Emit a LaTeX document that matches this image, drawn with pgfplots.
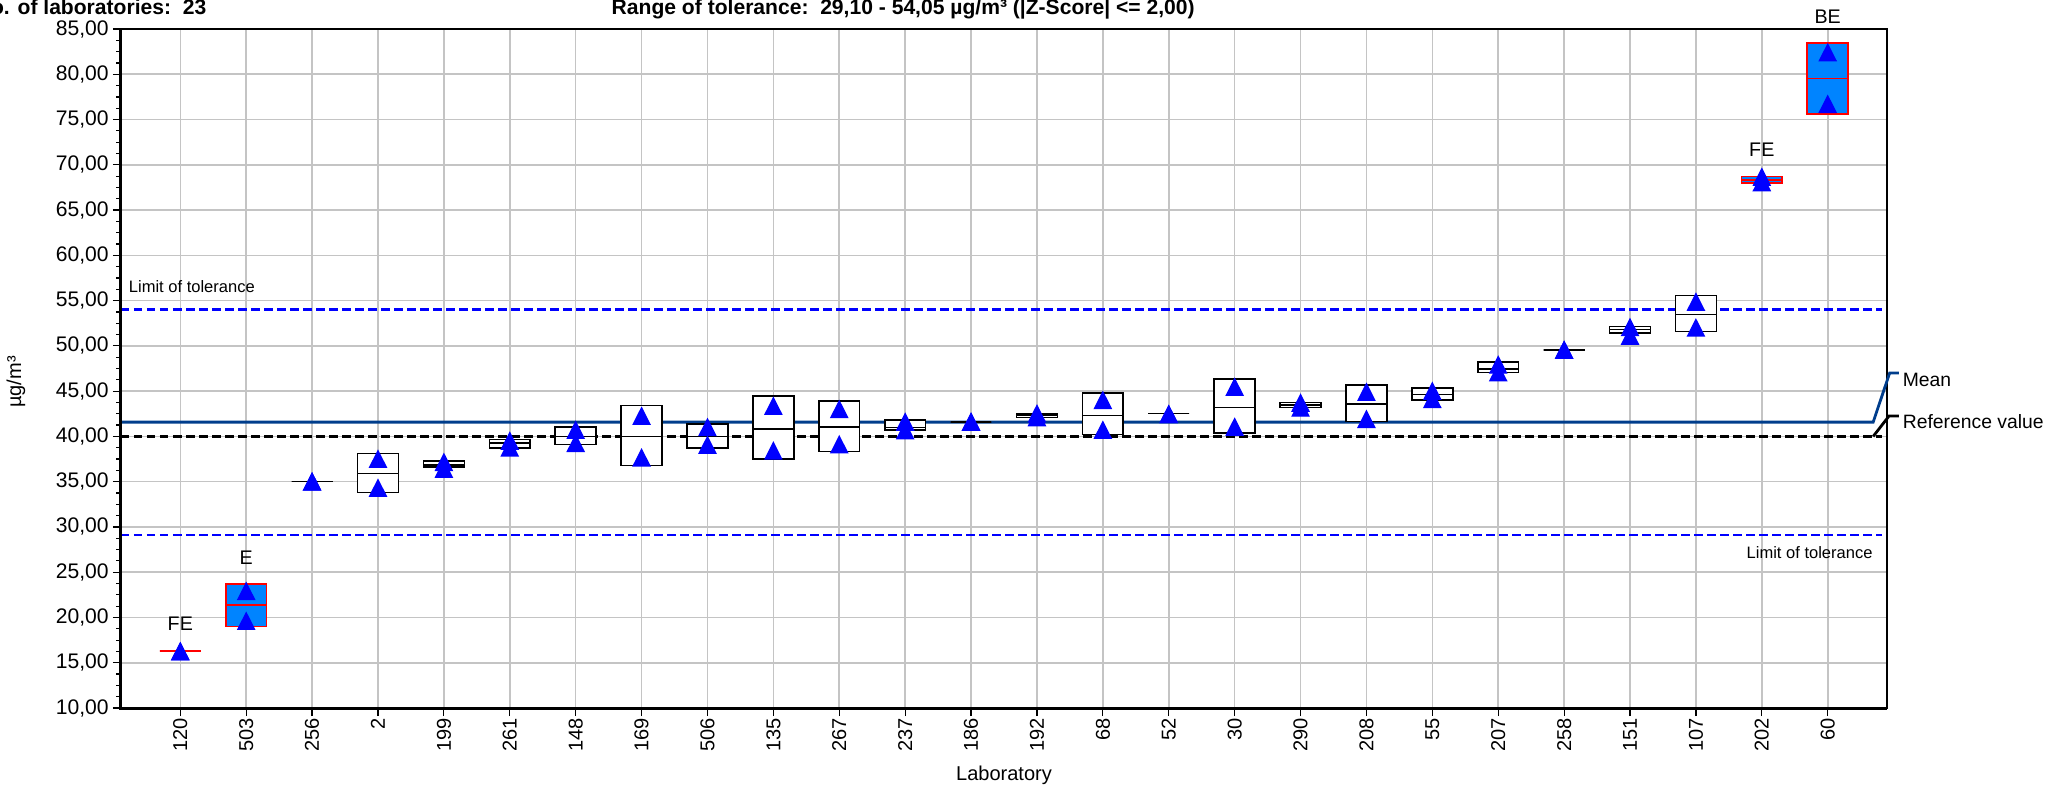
\documentclass[border=0pt]{standalone}
\usepackage{fontspec}
\setmainfont{Liberation Sans}
\usepackage{pgfplots}
\usepackage{pgfplotstable}
\usepgfplotslibrary{statistics}
\pgfplotsset{compat=1.18}

\definecolor{boxblue}{RGB}{0,132,255}
\definecolor{meanblue}{RGB}{0,61,140}
\definecolor{gridgray}{RGB}{196,196,196}

\pgfplotstableread{
pos lab lo med hi ta tb
0 120 16.3 16.3 16.3 16.25 16.25
1 503 19.0 21.4 23.7 22.9 19.6
2 256 35.0 35.0 35.0 35.0 35.0
3 2 33.8 35.9 38.1 37.5 34.3
4 199 36.6 36.85 37.3 37.15 36.4
5 261 38.75 39.25 39.65 39.5 38.75
6 148 39.1 40.0 41.05 40.7 39.25
7 169 36.8 40.0 43.4 42.25 37.65
8 506 38.75 40.0 41.4 41.0 39.05
9 135 37.5 40.85 44.45 43.35 38.4
10 267 38.35 41.05 43.9 43.0 39.1
11 237 40.7 41.0 41.8 41.6 40.65
12 186 41.6 41.6 41.6 41.6 41.6
13 192 42.1 42.3 42.5 42.5 42.1
14 68 40.2 42.3 44.8 44.0 40.7
15 52 42.55 42.55 42.55 42.45 42.45
16 30 40.35 43.2 46.35 45.45 41.05
17 290 43.2 43.45 43.75 43.7 43.15
18 208 41.65 43.6 45.7 44.9 41.9
19 55 44.05 44.65 45.35 45.0 44.1
20 207 47.05 47.45 48.2 47.9 47.05
21 258 49.55 49.55 49.55 49.55 49.55
22 151 51.45 51.8 52.15 52.05 51.1
23 107 51.6 53.45 55.55 54.85 52.0
24 202 68.0 68.35 68.7 68.65 68.05
25 60 75.6 79.55 83.45 82.4 76.7
}\boxes

% draw the box of one table row: #1 row, #2 style
\newcommand{\boxrow}[2]{%
  \pgfplotstablegetelem{#1}{lo}\of\boxes \edef\vlo{\pgfplotsretval}%
  \pgfplotstablegetelem{#1}{med}\of\boxes \edef\vmed{\pgfplotsretval}%
  \pgfplotstablegetelem{#1}{hi}\of\boxes \edef\vhi{\pgfplotsretval}%
  \edef\doplot{\noexpand\addplot[#2, boxplot/draw direction=y, boxplot prepared={draw position=#1, lower whisker=\vlo, lower quartile=\vlo, median=\vmed, upper quartile=\vhi, upper whisker=\vhi, box extend=0.62, whisker extend=0}] coordinates {};}%
  \doplot
}

\begin{document}
\begin{tikzpicture}
\path[use as bounding box] (-12.1mm,-8mm) rectangle (194.6mm,70.8mm);
\begin{axis}[
  scale only axis, width=176.6mm, height=67.9mm,
  at={(0,0)}, anchor=south west,
  xmin=-0.9, xmax=25.9, ymin=10, ymax=85,
  xtick={0,...,25}, xticklabels from table={\boxes}{lab},
  ytick={10,15,...,85},
  yticklabels={{10,00},{15,00},{20,00},{25,00},{30,00},{35,00},{40,00},{45,00},{50,00},{55,00},{60,00},{65,00},{70,00},{75,00},{80,00},{85,00}},
  minor y tick num=3,
  tick align=outside, tick pos=left,
  major tick length=0.8mm, minor tick length=0.45mm,
  every tick/.style={black, line width=0.12mm},
  grid=major, major grid style={gridgray, line width=0.16mm},
  axis line style={black, line width=0.13mm},
  clip=false,
  /pgf/number format/assume math mode=true,
  xticklabel style={font=\fontsize{5.7}{6.8}\selectfont, rotate=90, anchor=east},
  yticklabel style={font=\fontsize{6.0}{7.2}\selectfont},
  xticklabel shift=-1.0mm,
  yticklabel shift=-0.8mm,
  xlabel={Laboratory}, ylabel={µg/m³},
  label style={font=\fontsize{5.7}{6.8}\selectfont},
  xlabel style={at={(axis description cs:0.5,-0.0987)}, anchor=center},
  ylabel style={at={(axis description cs:-0.0595,0.48)}, anchor=center},
]
% limit, reference and mean lines
\addplot[blue, line width=0.28mm, dash pattern=on 0.85mm off 0.45mm] coordinates {(-0.9,54.05) (25.82,54.05)};
\addplot[blue, line width=0.28mm, dash pattern=on 0.85mm off 0.45mm] coordinates {(-0.9,29.10) (25.82,29.10)};
\addplot[black, line width=0.28mm, dash pattern=on 0.85mm off 0.45mm] coordinates {(-0.9,40) (25.82,40)};
\addplot[meanblue, line width=0.28mm] coordinates {(-0.9,41.58) (25.69,41.58) (25.94,47.0) (26.08,47.0)};
\addplot[black, line width=0.28mm] coordinates {(25.69,40) (25.93,42.25) (26.08,42.25)};

% normal boxes
\pgfplotsinvokeforeach{2,...,23}{\boxrow{#1}{black, fill=white, line width=0.16mm}}
% flagged boxes
\pgfplotsinvokeforeach{1,24,25}{\boxrow{#1}{red, fill=boxblue, line width=0.16mm}}
\boxrow{0}{red, fill=boxblue, line width=0.26mm}

% individual results
\addplot[only marks, mark=triangle*, mark size=0.95mm, color=blue, mark options={yscale=1.14, yshift=-0.24mm}] table[x=pos, y=ta] {\boxes};
\addplot[only marks, mark=triangle*, mark size=0.95mm, color=blue, mark options={yscale=1.14, yshift=-0.24mm}] table[x=pos, y=tb] {\boxes};

% flags
\node[font=\fontsize{5.6}{6.7}\selectfont] at (axis cs:0,19.3) {FE};
\node[font=\fontsize{5.6}{6.7}\selectfont] at (axis cs:1,26.55) {E};
\node[font=\fontsize{5.6}{6.7}\selectfont] at (axis cs:24,71.65) {FE};
\node[font=\fontsize{5.6}{6.7}\selectfont] at (axis cs:25,86.4) {BE};

% line captions
\node[anchor=west, inner sep=0pt, font=\fontsize{4.7}{5.6}\selectfont] at (axis cs:-0.79,56.5) {Limit of tolerance};
\node[anchor=east, inner sep=0pt, font=\fontsize{4.7}{5.6}\selectfont] at (axis cs:25.69,27.2) {Limit of tolerance};
\node[anchor=west, inner sep=0pt, font=\fontsize{5.5}{6.6}\selectfont] at (axis cs:26.13,46.25) {Mean};
\node[anchor=west, inner sep=0pt, font=\fontsize{5.5}{6.6}\selectfont] at (axis cs:26.13,41.6) {Reference value};

\draw[black, line width=0.3mm] (rel axis cs:0,1) -- (rel axis cs:0,0) -- (rel axis cs:1,0);
\end{axis}
\node[anchor=base east, inner sep=0pt, font=\bfseries\fontsize{6}{7}\selectfont] at (8.6mm,69.3mm) {No. of laboratories:\ \ 23};
\node[anchor=base west, inner sep=0pt, font=\bfseries\fontsize{6}{7}\selectfont] at (49.0mm,69.3mm) {Range of tolerance:\ \ 29,10 - 54,05 µg/m³ (|Z-Score| <= 2,00)};
\end{tikzpicture}
\end{document}
